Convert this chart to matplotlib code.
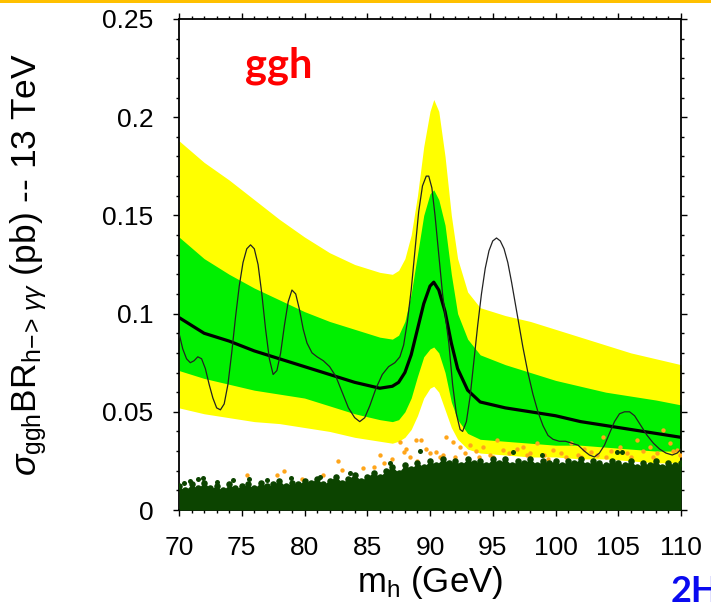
import numpy as np
import matplotlib
matplotlib.use('Agg')
import matplotlib.pyplot as plt
from matplotlib.ticker import MultipleLocator, FixedLocator, FixedFormatter

plt.rcParams['font.family'] = ['Liberation Sans', 'DejaVu Sans']
plt.rcParams['mathtext.fontset'] = 'custom'
plt.rcParams['mathtext.rm'] = 'Liberation Sans'
plt.rcParams['mathtext.it'] = 'Liberation Sans:italic'
plt.rcParams['mathtext.sf'] = 'Liberation Sans'

# masa del Higgs (GeV) para las bandas de la expectativa
masa = [70, 72, 74, 76, 78, 80, 82, 84, 86, 87, 87.5, 88, 88.5, 89, 89.5, 90, 90.3,
        90.7, 91.2, 91.7, 92.2, 93, 94, 96, 98, 100, 102, 104, 106, 108, 110]
amarillo_sup = [0.188, 0.177, 0.168, 0.158, 0.148, 0.139, 0.131, 0.125, 0.121, 0.120, 0.122,
                0.128, 0.140, 0.160, 0.185, 0.203, 0.209, 0.203, 0.180, 0.150, 0.128, 0.111,
                0.103, 0.099, 0.096, 0.092, 0.088, 0.084, 0.080, 0.077, 0.074]
verde_sup = [0.139, 0.128, 0.120, 0.113, 0.107, 0.101, 0.096, 0.092, 0.088, 0.087, 0.089,
             0.096, 0.110, 0.130, 0.150, 0.161, 0.163, 0.158, 0.145, 0.120, 0.100, 0.087,
             0.079, 0.074, 0.070, 0.066, 0.063, 0.060, 0.058, 0.056, 0.0535]
mediana = [0.098, 0.090, 0.086, 0.081, 0.077, 0.073, 0.069, 0.065, 0.062, 0.063, 0.065,
           0.070, 0.079, 0.092, 0.105, 0.114, 0.116, 0.112, 0.101, 0.085, 0.072, 0.061,
           0.055, 0.052, 0.050, 0.048, 0.045, 0.043, 0.041, 0.039, 0.037]
verde_inf = [0.071, 0.067, 0.064, 0.061, 0.059, 0.057, 0.053, 0.049, 0.046, 0.045, 0.046,
             0.050, 0.057, 0.068, 0.078, 0.082, 0.083, 0.080, 0.070, 0.055, 0.046, 0.039,
             0.036, 0.035, 0.034, 0.033, 0.033, 0.032, 0.031, 0.030, 0.030]
amarillo_inf = [0.052, 0.049, 0.047, 0.045, 0.044, 0.042, 0.040, 0.037, 0.035, 0.034, 0.035,
                0.037, 0.041, 0.048, 0.057, 0.062, 0.063, 0.060, 0.051, 0.042, 0.036, 0.031,
                0.029, 0.028, 0.027, 0.027, 0.026, 0.026, 0.025, 0.024, 0.024]

# limite observado
masa_obs = [70.0, 70.3, 70.6, 70.9, 71.2, 71.5, 71.8, 72.1, 72.4, 72.7, 73.0, 73.3, 73.6,
            73.9, 74.2, 74.5, 74.8, 75.1, 75.4, 75.7, 76.0, 76.3, 76.6, 76.9, 77.2, 77.5,
            77.8, 78.1, 78.4, 78.7, 79.0, 79.3, 79.6, 79.9, 80.2, 80.6, 81.0, 81.5, 82.0,
            82.5, 83.0, 83.5, 84.0, 84.4, 84.8, 85.2, 85.7, 86.2, 86.7, 87.2, 87.6, 87.9,
            88.2, 88.5, 88.8, 89.1, 89.4, 89.7, 89.9, 90.15, 90.4, 90.7, 91.0, 91.2, 91.5,
            91.8, 92.1, 92.4, 92.6, 92.9, 93.2, 93.5, 93.8, 94.1, 94.4, 94.7, 95.0, 95.3,
            95.6, 95.9, 96.2, 96.5, 96.8, 97.1, 97.4, 97.8, 98.2, 98.6, 99.0, 99.4, 99.8,
            100.3, 100.8, 101.3, 101.8, 102.3, 102.7, 103.1, 103.5, 103.9, 104.3, 104.7,
            105.1, 105.5, 105.9, 106.3, 106.8, 107.3, 107.8, 108.3, 108.8, 109.3, 109.7,
            110.0]
observado = [0.090, 0.082, 0.077, 0.075, 0.076, 0.078, 0.077, 0.072, 0.064, 0.057, 0.052,
             0.051, 0.054, 0.064, 0.080, 0.098, 0.114, 0.126, 0.133, 0.135, 0.133, 0.125,
             0.110, 0.092, 0.077, 0.069, 0.071, 0.080, 0.094, 0.106, 0.112, 0.110, 0.102,
             0.092, 0.085, 0.080, 0.078, 0.076, 0.073, 0.068, 0.060, 0.052, 0.047, 0.045,
             0.047, 0.053, 0.062, 0.069, 0.073, 0.075, 0.078, 0.084, 0.096, 0.112, 0.132,
             0.152, 0.165, 0.170, 0.170, 0.164, 0.150, 0.130, 0.110, 0.100, 0.085, 0.064,
             0.049, 0.041, 0.040, 0.045, 0.058, 0.076, 0.094, 0.110, 0.123, 0.132, 0.137,
             0.1385, 0.137, 0.133, 0.126, 0.116, 0.105, 0.094, 0.083, 0.070, 0.059, 0.050,
             0.043, 0.038, 0.036, 0.035, 0.035, 0.034, 0.033, 0.030, 0.028, 0.027, 0.029,
             0.033, 0.039, 0.045, 0.049, 0.050, 0.050, 0.048, 0.043, 0.038, 0.034, 0.031,
             0.029, 0.028, 0.029, 0.031]

# borde superior de la nube de puntos (verde oscuro), cada 0.5 GeV
masa_nube = np.arange(70, 110.01, 0.5)
nube_sup = [0.012, 0.010, 0.013, 0.011, 0.014, 0.011, 0.012, 0.010, 0.013, 0.011, 0.012,
            0.013, 0.011, 0.014, 0.012, 0.013, 0.015, 0.012, 0.014, 0.013, 0.015,
            0.014, 0.016, 0.013, 0.015, 0.017, 0.014, 0.016, 0.018, 0.015, 0.017,
            0.019, 0.017, 0.020, 0.022, 0.019, 0.023, 0.021, 0.024, 0.022, 0.025,
            0.023, 0.026, 0.024, 0.025, 0.023, 0.026, 0.024, 0.025, 0.023, 0.026,
            0.024, 0.026, 0.023, 0.025, 0.024, 0.026, 0.023, 0.025, 0.024, 0.025,
            0.023, 0.025, 0.024, 0.026, 0.023, 0.025, 0.024, 0.023, 0.025, 0.024,
            0.023, 0.025, 0.022, 0.024, 0.023, 0.025, 0.022, 0.024, 0.023, 0.024]

# puntos verdes sueltos por encima de la nube
verdes_x = [70.4, 70.9, 71.5, 71.9, 73.0, 74.3, 75.6, 77.0, 78.9, 81.2, 83.6, 86.8,
            89.2, 96.6, 98.9, 104.9, 105.3]
verdes_y = [0.014, 0.015, 0.016, 0.0163, 0.0145, 0.0153, 0.016, 0.0155, 0.0165, 0.017,
            0.019, 0.024, 0.030, 0.0297, 0.028, 0.0297, 0.0297]

# puntos naranjas
naranja_x = [75.4, 77.8, 78.4, 79.8, 81.5, 82.7, 83.0, 84.7, 85.5, 86.0, 86.3, 87.0, 87.6,
             87.9, 88.4, 88.9, 89.3, 89.7, 90.0, 90.5, 91.0, 91.3, 91.8, 92.4, 92.8, 93.2,
             93.7, 94.2, 94.8, 95.3, 95.8, 96.3, 96.9, 97.4, 98.0, 98.5, 99.1, 99.8, 100.4,
             101.2, 101.8, 102.3, 102.8, 103.3, 103.8, 104.4, 105.1, 105.7, 106.5, 107.0,
             107.5, 108.1, 108.6, 109.1, 109.4, 109.7, 88.1, 90.8, 92.0, 93.9, 95.0, 97.7,
             99.4, 100.8, 102.0, 104.0, 106.0, 107.8, 109.9, 89.0]
naranja_y = [0.0178, 0.0178, 0.020, 0.016, 0.018, 0.025, 0.0204, 0.0213, 0.022, 0.028,
             0.0238, 0.026, 0.0348, 0.0297, 0.027, 0.0356, 0.0356, 0.031, 0.029, 0.0297,
             0.028, 0.0372, 0.0348, 0.0322, 0.029, 0.033, 0.030, 0.0322, 0.028, 0.0356,
             0.0306, 0.029, 0.031, 0.0322, 0.029, 0.034, 0.028, 0.0306, 0.029, 0.034,
             0.028, 0.031, 0.0297, 0.028, 0.0373, 0.030, 0.0322, 0.029, 0.0356, 0.030,
             0.0322, 0.029, 0.0407, 0.034, 0.030, 0.0306, 0.031, 0.027, 0.027, 0.027,
             0.027, 0.028, 0.026, 0.027, 0.027, 0.027, 0.027, 0.027, 0.028, 0.025]

ticks_y = [0, 0.05, 0.1, 0.15, 0.2, 0.25]
etiquetas_y = ['0', '0.05', '0.1', '0.15', '0.2', '0.25']

fig = plt.figure(figsize=(7.11, 6.08), dpi=100)
ax = fig.add_axes([179 / 711, 1 - 510 / 608, 502 / 711, 491 / 608])

verde_osc = '#0C4400'
ax.fill_between(masa, amarillo_inf, amarillo_sup, color='#FFFF00', lw=0, zorder=1)
ax.fill_between(masa, verde_inf, verde_sup, color='#00F000', lw=0, zorder=2)
ax.scatter(naranja_x, naranja_y, s=10, color='#FFA51A', lw=0, zorder=3)
ax.fill_between(masa_nube, 0, nube_sup, color=verde_osc, lw=0, zorder=4)
ax.scatter(masa_nube, nube_sup, s=22, color=verde_osc, lw=0, zorder=4)
ax.scatter(verdes_x, verdes_y, s=13, color=verde_osc, lw=0, zorder=4)
ax.plot(masa, mediana, color='black', lw=2.3, zorder=5)
ax.plot(masa_obs, observado, color='#222222', lw=0.9, zorder=6)

ax.set_xlim(70, 110)
ax.set_ylim(0, 0.25)
ax.xaxis.set_major_locator(MultipleLocator(5))
ax.xaxis.set_minor_locator(MultipleLocator(1))
ax.yaxis.set_major_locator(FixedLocator(ticks_y))
ax.yaxis.set_major_formatter(FixedFormatter(etiquetas_y))
ax.yaxis.set_minor_locator(MultipleLocator(0.01))
ax.tick_params(which='both', direction='out', top=True, right=True, width=1.0)
ax.tick_params(which='major', length=4.5, labelsize=19, pad=14)
ax.tick_params(which='minor', length=2.5)
for s in ax.spines.values():
    s.set_linewidth(1.3)

ax.set_xlabel(r'm$_\mathrm{h}$ (GeV)', fontsize=25, labelpad=3)
ax.set_ylabel(r'$\sigma_{\mathrm{ggh}}$BR$_{\mathrm{h\!-\!\!>}\,\gamma\gamma}$ (pb) -- 13 TeV',
              fontsize=25.5, labelpad=38)

fig.text(245 / 711, 1 - 66 / 608, 'ggh', color='#FF0000', fontsize=30,
         fontweight='bold', family='Lato', va='center', ha='left')
fig.text(671 / 711, 1 - 592 / 608, '2H', color='#0A0AF0', fontsize=26,
         fontweight='bold', family='Lato', va='center', ha='left')
fig.add_artist(plt.Rectangle((0, 1 - 3 / 608), 1, 3 / 608, transform=fig.transFigure,
                             color='#FFC000', lw=0))

fig.savefig('out.png', dpi=100)
